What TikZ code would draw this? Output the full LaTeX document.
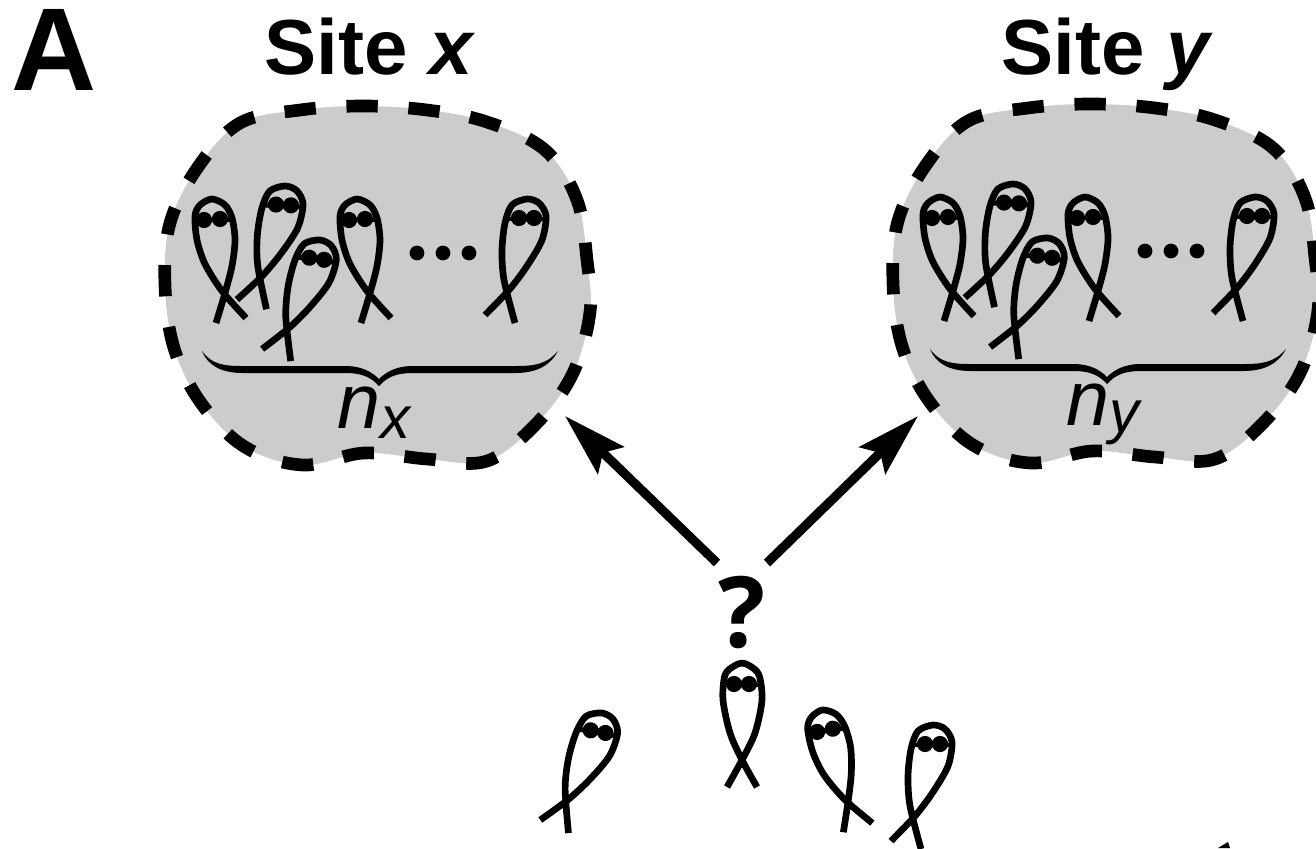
\documentclass[tikz,border=0pt]{standalone}
\usepackage{fontspec}
\setmainfont{Liberation Sans}
\newfontfamily\whatfont{Open Sans}
\usetikzlibrary{arrows.meta}
\tikzset{
    sitefill/.style = {fill=black!20,draw=none},
    siteline/.style = {draw=black,line width=3.6pt,dash pattern=on 8.9pt off 8.75pt,dash phase=4.45pt},
    fishline/.style = {draw=black,line width=1.9pt,line join=round},
    fishbar/.style = {draw=black,line width=1.4pt},
    edgen/.style = {-{Stealth[length=18pt,width=10.5pt,inset=3pt]},line width=2.6pt,black},
    mytitle/.style = {anchor=base,inner sep=0pt,font=\fontsize{22.2}{22.2}\selectfont\bfseries},
    mylabel/.style = {anchor=base west,inner sep=0pt,font=\fontsize{22}{22}\selectfont\itshape},
    mybig/.style = {anchor=base,inner sep=0pt,font=\fontsize{28}{28}\selectfont\whatfont\bfseries},
    fishs/.pic = {
        \draw[fishline] plot[smooth,tension=.5] coordinates {(15,124) (0,97) (-12,70) (-19,37) (-17,12) (-8,3) (0,0) (8,3) (17,12) (20,37) (13,70) (0,97) (-15,124)};
        \fill (-8,21) circle[radius=2.3pt] (7,21) circle[radius=2.3pt];
        \draw[fishbar] (-17,22) -- (18,22);
    },
    fishr/.pic = {
        \draw[fishline] plot[smooth,tension=.5] coordinates {(34,120) (10,93) (-7,66) (-15,42) (-17,18) (-12,7) (0,1) (13,7) (20,20) (23,42) (20,68) (13,95) (4,125)};
        \fill (-8,22) circle[radius=2.3pt] (8,21) circle[radius=2.3pt];
        \draw[fishbar] (-17,22) -- (21,22);
    },
    fishl/.pic = {
        \draw[fishline] plot[smooth,tension=.5] coordinates {(-42,117) (-18,92) (0,68) (15,42) (19,18) (12,5) (0,1) (-15,7) (-22,25) (-25,52) (-23,82) (-12,125)};
        \fill (-8,20) circle[radius=2.3pt] (7,20) circle[radius=2.3pt];
        \draw[fishbar] (-21,21) -- (18,21);
    },
    site/.pic = {
        \path[sitefill] plot[smooth cycle,tension=.6] coordinates {(165,285) (170,223) (198,167) (240,123) (300,110) (363,106) (427,110) (487,122) (545,150) (577,200) (587,260) (590,312) (573,373) (537,423) (487,461) (427,459) (364,453) (303,465) (245,447) (201,403) (174,348)};
        \path[siteline] plot[smooth cycle,tension=.6] coordinates {(165,285) (170,223) (198,167) (240,123) (300,110) (363,106) (427,110) (487,122) (545,150) (577,200) (587,260) (590,312) (573,373) (537,423) (487,461) (427,459) (364,453) (303,465) (245,447) (201,403) (174,348)};
        % group of fish
        \pic at (212,198) {fishr};
        \pic[rotate=-3] at (285,185) {fishl};
        \pic[rotate=-8] at (320,239) {fishl};
        \pic at (357,198) {fishr};
        \pic at (527,198) {fishl};
        \fill (417,253) circle[radius=2.1pt] (443,253) circle[radius=2.1pt] (469,253) circle[radius=2.1pt];
        % brace
        \fill (202,351) .. controls (212,365) and (225,366) .. (243,366) -- (345,366) .. controls (362,366) and (372,372) .. (379,379) .. controls (386,372) and (396,366) .. (413,366) -- (515,366) .. controls (533,366) and (546,365) .. (558,351) .. controls (550,366) and (536,373) .. (515,373) -- (413,373) .. controls (398,373) and (388,376) .. (379,386) .. controls (370,376) and (360,373) .. (345,373) -- (243,373) .. controls (222,373) and (208,366) .. (202,351) -- cycle;
    },
}
\begin{document}
\begin{tikzpicture}[x=0.01cm,y=-0.01cm]
\clip (0,0) rectangle (1316,848);
\node[anchor=base,inner sep=0pt,font=\fontsize{33.5}{33.5}\selectfont\bfseries] at (54,90) (panel) {A};
\node[mytitle] at (370,74) (titlex) {Site \textit{x}};
\node[mytitle] at (1107,74) (titley) {Site \textit{y}};
%
\pic at (0,0) {site};
\pic at (728,-2) {site};
\node[mylabel] at (337,428) (nx) {n\raisebox{-3pt}{\fontsize{17}{17}\selectfont x}};
\node[mylabel] at (1066,425) (ny) {n\raisebox{-2pt}{\fontsize{17}{17}\selectfont y}};
%
\node[mybig] at (742,647) (what) {?};
\coordinate (startx) at (717,563);
\coordinate (starty) at (767,563);
\coordinate (tipx) at (565,416);
\coordinate (tipy) at (918,416);
\draw[edgen] (startx) -- (tipx);
\draw[edgen] (starty) -- (tipy);
%
\pic at (742,663) {fishs};
\pic[rotate=-10] at (602,712) {fishl};
\pic[rotate=8] at (822,709) {fishr};
\pic at (933,724) {fishl};
\fill (1228,842) -- (1218,848) -- (1230,848) -- cycle;
\end{tikzpicture}
\end{document}
